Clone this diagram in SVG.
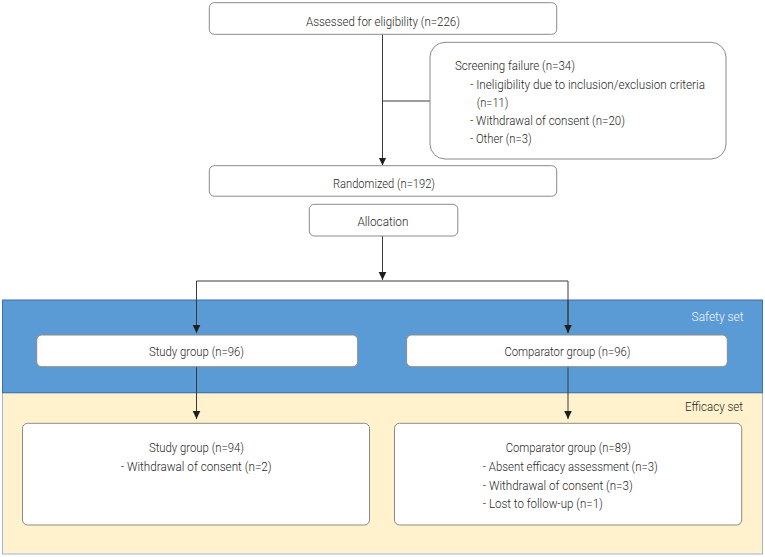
<svg xmlns="http://www.w3.org/2000/svg" width="765" height="557" viewBox="0 0 765 557">
<defs>
<style>
.box{fill:#ffffff;stroke:#8a8a8a;stroke-width:1}
.t{font-family:Roboto,"Liberation Sans",sans-serif;font-size:13.2px;font-weight:300;fill:#1f1f1f}
.w{fill:#f2f6fc}
.ln{fill:none;stroke:#3a3a3a;stroke-width:1}
</style>
<marker id="ah" viewBox="0 0 8 10" refX="8" refY="5" markerWidth="8" markerHeight="10" markerUnits="userSpaceOnUse" orient="auto">
<path d="M0,1.2 L8,5 L0,8.8 Z" fill="#1e1e1e"/>
</marker>
</defs>
<rect width="765" height="557" fill="#ffffff"/>
<g id="bands">
<rect x="2.5" y="392.7" width="760" height="161.3" fill="#fff2cc" stroke="#9db4de" stroke-width="1"/>
<rect x="2.5" y="300" width="760" height="92.7" fill="#5b9bd5" stroke="#3b6fb0" stroke-width="1"/>
<text class="t w" x="691.6" y="321" textLength="52" lengthAdjust="spacingAndGlyphs">Safety set</text>
<text class="t" x="685" y="410.7" textLength="58" lengthAdjust="spacingAndGlyphs">Efficacy set</text>
</g>
<g id="connectors">
<line class="ln" x1="382.5" y1="34.3" x2="382.5" y2="165.5" marker-end="url(#ah)"/>
<line class="ln" x1="382.5" y1="101" x2="430" y2="101"/>
<line class="ln" x1="382.5" y1="236" x2="382.5" y2="280" marker-end="url(#ah)"/>
<polyline class="ln" points="196.5,333 196.5,281 568,281 568,333"/>
<line class="ln" x1="196.5" y1="300" x2="196.5" y2="333" marker-end="url(#ah)"/>
<line class="ln" x1="568" y1="300" x2="568" y2="333" marker-end="url(#ah)"/>
<line class="ln" x1="196.5" y1="366.7" x2="196.5" y2="419" marker-end="url(#ah)"/>
<line class="ln" x1="568" y1="366.7" x2="568" y2="419" marker-end="url(#ah)"/>
</g>
<g id="assessed">
<rect class="box" x="209.3" y="2.7" width="347.4" height="31.6" rx="5"/>
<text class="t" x="306" y="25.5" textLength="154" lengthAdjust="spacingAndGlyphs">Assessed for eligibility (n=226)</text>
</g>
<g id="screening">
<rect class="box" x="430" y="42.3" width="296" height="116.7" rx="15"/>
<text class="t" x="455" y="69.7" textLength="120" lengthAdjust="spacingAndGlyphs">Screening failure (n=34)</text>
<text class="t" x="470" y="89" textLength="235" lengthAdjust="spacingAndGlyphs">- Ineligibility due to inclusion/exclusion criteria</text>
<text class="t" x="476.7" y="106.7" textLength="31.7" lengthAdjust="spacingAndGlyphs">(n=11)</text>
<text class="t" x="470" y="124.8" textLength="155" lengthAdjust="spacingAndGlyphs">- Withdrawal of consent (n=20)</text>
<text class="t" x="470" y="142.5" textLength="61.7" lengthAdjust="spacingAndGlyphs">- Other (n=3)</text>
</g>
<g id="randomized">
<rect class="box" x="209.3" y="165.7" width="347.4" height="30.5" rx="5"/>
<text class="t" x="333" y="188.3" textLength="102" lengthAdjust="spacingAndGlyphs">Randomized (n=192)</text>
</g>
<g id="allocation">
<rect class="box" x="309.3" y="204.3" width="148.5" height="31.7" rx="5"/>
<text class="t" x="357.4" y="226.3" textLength="51" lengthAdjust="spacingAndGlyphs">Allocation</text>
</g>
<g id="study96">
<rect class="box" x="36.7" y="335" width="321" height="31.7" rx="5"/>
<text class="t" x="149" y="356" textLength="95" lengthAdjust="spacingAndGlyphs">Study group (n=96)</text>
</g>
<g id="comparator96">
<rect class="box" x="406.6" y="335" width="320.7" height="31.7" rx="5"/>
<text class="t" x="504.4" y="356" textLength="126" lengthAdjust="spacingAndGlyphs">Comparator group (n=96)</text>
</g>
<g id="study94">
<rect class="box" x="22.5" y="423.3" width="347" height="101.7" rx="5"/>
<text class="t" x="149" y="451.7" textLength="95" lengthAdjust="spacingAndGlyphs">Study group (n=94)</text>
<text class="t" x="120.7" y="470.7" textLength="151" lengthAdjust="spacingAndGlyphs">- Withdrawal of consent (n=2)</text>
</g>
<g id="comparator89">
<rect class="box" x="394.5" y="423.3" width="347.2" height="101.7" rx="5"/>
<text class="t" x="505.8" y="452" textLength="125" lengthAdjust="spacingAndGlyphs">Comparator group (n=89)</text>
<text class="t" x="482.8" y="471.3" textLength="175" lengthAdjust="spacingAndGlyphs">- Absent efficacy assessment (n=3)</text>
<text class="t" x="482.8" y="489.7" textLength="150" lengthAdjust="spacingAndGlyphs">- Withdrawal of consent (n=3)</text>
<text class="t" x="482.8" y="508.3" textLength="120" lengthAdjust="spacingAndGlyphs">- Lost to follow-up (n=1)</text>
</g>
</svg>
